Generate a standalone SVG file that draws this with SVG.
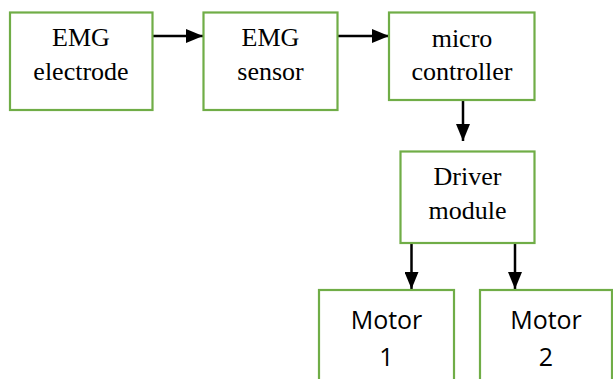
<svg xmlns="http://www.w3.org/2000/svg" width="613" height="379" viewBox="0 0 613 379">
  <style>
    .box { fill: #ffffff; stroke: #70ad47; stroke-width: 2.2; }
    .serif { font-family: "Liberation Serif", "Times New Roman", serif; font-size: 26px; fill: #000; text-anchor: middle; }
    .sans { font-family: "Open Sans", "Liberation Sans", sans-serif; font-size: 25px; fill: #000; text-anchor: middle; }
    .wire { stroke: #000; stroke-width: 2.5; fill: none; marker-end: url(#head); }
  </style>
  <defs>
    <marker id="head" markerUnits="userSpaceOnUse" markerWidth="17" markerHeight="14" refX="17" refY="7" orient="auto">
      <path d="M0,0 L17,7 L0,14 Z" fill="#000"/>
    </marker>
  </defs>
  <rect width="613" height="379" fill="#ffffff"/>

  <g id="connectors">
    <line class="wire" x1="152" y1="36" x2="203" y2="36"/>
    <line class="wire" x1="338" y1="36" x2="389" y2="36"/>
    <line class="wire" x1="463" y1="100" x2="463" y2="141"/>
    <line class="wire" x1="411.5" y1="243" x2="411.5" y2="289"/>
    <line class="wire" x1="515" y1="243" x2="515" y2="289"/>
  </g>

  <g id="emg-electrode">
    <rect class="box" x="10" y="12.5" width="142.5" height="97.5"/>
    <text class="serif" x="81" y="46">EMG</text>
    <text class="serif" x="81" y="80">electrode</text>
  </g>

  <g id="emg-sensor">
    <rect class="box" x="203.5" y="12.5" width="134" height="97.5"/>
    <text class="serif" x="270.5" y="46">EMG</text>
    <text class="serif" x="270.5" y="80">sensor</text>
  </g>

  <g id="microcontroller">
    <rect class="box" x="389" y="12.5" width="145.5" height="87.5"/>
    <text class="serif" x="462" y="47">micro</text>
    <text class="serif" x="462" y="79.5">controller</text>
  </g>

  <g id="driver-module">
    <rect class="box" x="400.5" y="151.5" width="134" height="91.5"/>
    <text class="serif" x="467.5" y="185">Driver</text>
    <text class="serif" x="467.5" y="218.5">module</text>
  </g>

  <g id="motor-1">
    <rect class="box" x="319" y="290" width="135" height="100"/>
    <text class="sans" x="386.5" y="328.5">Motor</text>
    <text class="sans" x="386.5" y="366">1</text>
  </g>

  <g id="motor-2">
    <rect class="box" x="480" y="290" width="132" height="100"/>
    <text class="sans" x="546" y="328.5">Motor</text>
    <text class="sans" x="546" y="366">2</text>
  </g>
</svg>
